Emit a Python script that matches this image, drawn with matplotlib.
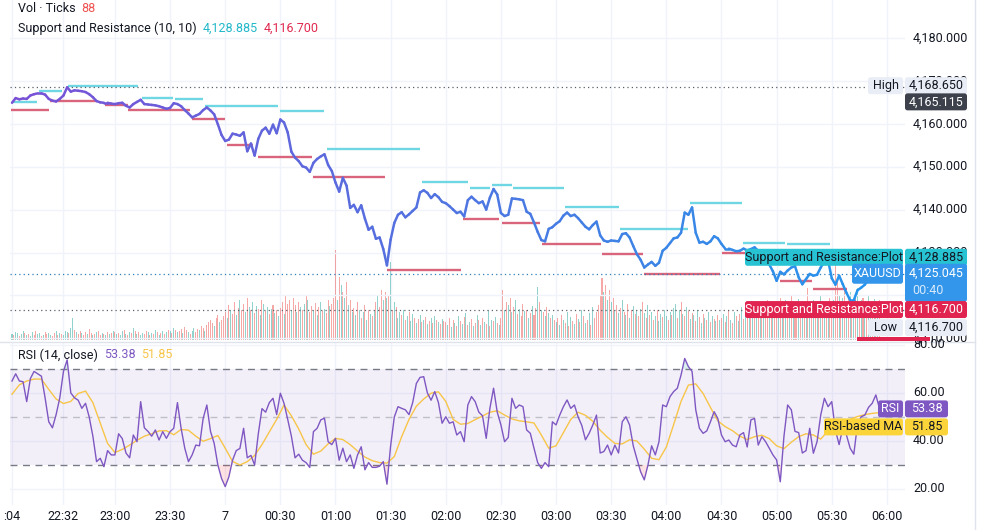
import numpy as np
import matplotlib
matplotlib.use("Agg")
import matplotlib.pyplot as plt
from matplotlib.collections import LineCollection
from matplotlib.patches import FancyBboxPatch, Rectangle

# ---------------- data (minutes after 22:00) ----------------
START = 4
# closes every 2 minutes
price = [
    4164.9, 4166.0, 4165.7, 4165.9, 4165.8, 4166.6, 4166.9, 4167.1, 4167.1, 4166.8, 4165.8, 4165.4, 4165.2,
    4165.8, 4166.6, 4168.5, 4167.5, 4167.8, 4167.7, 4167.6, 4167.4, 4166.9, 4166.2, 4165.3, 4165.0, 4164.9, 4164.9, 4164.7,
    4164.6, 4164.8, 4164.9, 4164.2, 4163.8, 4164.6, 4165.1, 4165.6, 4164.6, 4164.5, 4164.4, 4164.3, 4164.1, 4163.8, 4163.5,
    4163.7, 4164.8, 4164.6, 4164.1, 4163.2, 4162.4, 4161.5, 4161.9, 4162.3, 4163.2, 4163.8, 4163.1, 4162.2, 4159.9, 4157.4,
    4156.0, 4156.3, 4157.7, 4157.5, 4157.2, 4158.0, 4153.6, 4155.4, 4152.6, 4156.5, 4158.4, 4159.1, 4157.7, 4159.8, 4157.8,
    4161.0, 4160.3, 4158.0, 4153.5, 4152.1, 4151.3, 4150.1, 4149.8, 4148.8, 4150.9, 4151.8, 4152.4, 4152.9, 4150.4, 4149.0,
    4146.3, 4144.2, 4147.4, 4145.6, 4140.4, 4141.1, 4139.4, 4141.0, 4137.9, 4135.3, 4136.0, 4133.2, 4133.5, 4130.8, 4127.0,
    4133.0, 4136.9, 4138.8, 4139.4, 4138.2, 4138.9, 4139.7, 4140.5, 4144.0, 4144.5, 4143.9, 4142.7, 4143.6, 4142.9, 4141.8,
    4141.5, 4140.8, 4140.0, 4139.2, 4139.5, 4138.4, 4142.2, 4143.0, 4142.2, 4141.5, 4141.9, 4140.0, 4142.8, 4144.8, 4143.5,
    4139.2, 4138.5, 4138.8, 4142.6, 4142.5, 4142.4, 4142.2, 4139.5, 4139.0, 4137.0, 4134.8, 4132.9, 4132.6, 4135.5, 4135.9,
    4136.7, 4137.3, 4138.6, 4139.3, 4138.5, 4138.8, 4138.0, 4137.0, 4136.0, 4135.4, 4136.4, 4137.2, 4134.0, 4132.8, 4132.5,
    4132.8, 4132.7, 4132.6, 4134.3, 4134.5, 4133.5, 4131.5, 4129.6, 4128.3, 4126.5, 4127.2, 4127.8, 4126.9, 4127.6, 4130.4,
    4131.1, 4132.2, 4133.3, 4133.5, 4134.6, 4139.3, 4138.8, 4140.5, 4134.6, 4132.3, 4132.5, 4132.0, 4132.6, 4133.8, 4133.3,
    4132.0, 4130.9, 4130.9, 4130.6, 4130.3, 4130.4, 4130.9, 4130.5, 4130.8, 4131.2, 4130.4, 4129.3, 4128.4, 4127.2, 4125.6,
    4123.4, 4125.5, 4124.9, 4125.8, 4126.5, 4126.8, 4124.2, 4122.6, 4123.8, 4125.0, 4124.6, 4124.8, 4126.5, 4127.9, 4128.2,
    4124.0, 4122.5, 4124.6, 4122.6, 4120.6, 4118.9, 4118.9, 4121.2, 4121.8, 4122.5, 4123.8, 4124.6, 4125.6, 4125.045,
]
# RSI(14) every 2 minutes
rsi = [
    65, 68, 65, 64.7, 56.4, 66, 69, 68, 67, 58, 48, 45.5, 51,
    58, 69, 73.8, 60, 58, 57, 53.6, 55.7, 50, 42, 31.4, 32.8, 29.3, 36, 34.2,
    34.2, 43, 41, 35, 33, 42.5, 39.7, 56.4, 45.5, 44, 42, 44.6, 40.4, 43.9, 41.1,
    43.9, 45.3, 56, 45.3, 37, 31.4, 34.2, 38.3, 38, 49.4, 55, 44, 39, 30, 24.4,
    21, 25.1, 32, 36, 36.9, 45.3, 33, 34, 30, 43, 53.5, 52, 56, 57.8, 51,
    59.9, 55.7, 49, 42, 33, 34.5, 32, 31, 29, 43.9, 45.3, 48.8, 49.5, 39.7, 38.5,
    41.1, 32, 37, 31.4, 34.2, 28.6, 34.2, 37.6, 28, 31, 29, 29, 29.5, 31.4, 22,
    38, 50, 54.3, 53.6, 53, 51, 56, 64, 66.5, 66.8, 60, 57, 60.6, 56, 47.4,
    50.1, 47.4, 48, 42.5, 43.9, 39.7, 55, 58.5, 56.4, 52, 50.5, 41.1, 53.6, 62, 52,
    46.7, 39.7, 41.5, 57.8, 53.6, 55, 54.3, 44.6, 43.2, 37, 31, 28.6, 31, 29.3, 48,
    46.7, 50.8, 54.3, 57.1, 53.6, 55, 50, 46.5, 40.5, 43.2, 46.7, 50.8, 35, 35.6, 38.3,
    34.2, 38.3, 35, 48, 50.1, 46.7, 38, 32.5, 27.2, 23.8, 30, 38, 34.2, 39.7, 55,
    54.3, 58.5, 60.6, 62, 67.5, 74.4, 71, 69, 53, 45.3, 43.2, 44.2, 48, 52.2, 49.4,
    42.5, 39.7, 40.4, 38.3, 37.6, 42.5, 43.5, 37.5, 48.8, 49.4, 38.3, 41.8, 39.7, 37, 34.2,
    32.1, 23, 42, 55, 53, 44, 43.5, 35, 36, 45.3, 34.9, 39.7, 50.8, 57.8, 54.3,
    56.4, 44.5, 38.5, 45.3, 42.5, 37, 34.5, 47, 50.1, 50.8, 54, 55.7, 59.2, 53.38,
]
# RSI-based MA every 4 minutes
rsi_ma = [
    59.5, 63.4, 65.0, 65.8, 65.8, 61.5, 57.5, 55.6, 56.5, 59.8, 60.8, 56.0, 47.5, 39.0, 35.2,
    36.5, 38.3, 40.3, 42.0, 43.0, 44.2, 44.3, 42.6, 44.8, 44.5, 42.0, 39.9, 41.0, 42.3, 37.0,
    31.5, 30.0, 31.4, 34.0, 38.5, 43.8, 49.0, 55.0, 50.5, 45.0, 38.5, 34.5, 35.8, 38.8, 41.1,
    40.6, 38.5, 35.8, 33.3, 31.8, 31.0, 30.8, 33.5, 41.8, 49.0, 54.5, 57.5, 59.9, 60.5, 56.5,
    49.0, 47.0, 47.3, 48.9, 50.4, 52.0, 52.6, 50.8, 49.2, 48.4, 48.0, 47.5, 42.5, 37.0, 38.0,
    43.5, 49.0, 52.0, 50.7, 48.2, 44.5, 41.5, 39.0, 38.8, 40.5, 40.0, 36.6, 32.8, 32.2, 37.5,
    46.9, 56.5, 63.3, 63.8, 59.8, 54.0, 48.4, 46.0, 44.3, 42.0, 40.6, 41.8, 42.4, 41.0, 38.0,
    36.8, 39.5, 41.8, 43.0, 42.5, 40.8, 44.2, 46.0, 47.6, 49.0, 50.2, 51.0, 51.5, 51.85,
]
# tick volume per 1-minute bar (positive = up bar, negative = down bar)
volume = [
    6, -5, 8, 7, -4, 6, 9, -7, 5, -6, 4, 8, -5, -9, 6, 7, -4, 5, -8, -6, 7, 5, -4, -7, 9, -5,
    7, -6, 5, 9, 8, -7, 12, 22, -10, 8, -6, -9, 7, -5, -8, 6, -11, -7, 5, -6, 8, -9, -5, 7, -6, 5, -8, 6, -7, 9,
    -8, 6, -7, 5, 9, -10, 6, -5, 8, -7, 12, -9, 6, -8, 5, 7, -6, -9, 8, -5, 7, -6, 10, -8, 5, -7, 9, -6, 8, -10,
    9, -7, 12, -10, 8, -9, -11, 7, -13, -10, 8, -6, 9, 12, -8, -11, 10, -14, -12, 9, -15, -18, -20, -17, 14, -22, -25, 18, -20, -24,
    -28, 22, -35, 30, -26, -38, 25, -32, 40, -30, -36, 28, -42, 33, -30, 38, -27, 34, -31, 25, -40, 36, -29, 33, -26, 31, -35, 27, -30, 24,
    -32, -38, 26, -44, -36, -40, 30, -42, -35, 28, -38, 33, -30, 36, -45, 40, -28, -34, 30, -37, 25, -33, 38, -29, 31, -27, -40, 34, -36, -42,
    -90, 40, -63, 55, -48, 42, -58, 35, -40, 28, -32, 25, -38, 30, -22, 28, -35, 20, -30, 26, -24, 30, -38, 45, -33, -50, 40, -48, 42, -45,
    78, -30, 38, -33, 22, 28, -25, 30, -20, 24, -28, 19, 26, -22, 17, -21, 25, -18, 20, -23, 16, -19, 22, -17, 24, -20, 18, -16, 21, -19,
    -18, 15, -22, 13, -20, 17, -14, 24, -19, 16, -23, 27, -15, 18, -21, 14, -17, 25, -20, 15, -22, 18, -16, 30, -14, 20, -19, 23, -17, 15,
    -22, -50, 30, -38, 35, -42, 28, -33, 40, -26, 31, -24, -36, 29, -30, 22, -27, 34, -25, -32, 53, -38, 30, -28, 24, -33, 27, -22, 25, -20,
    18, -22, 15, -25, 20, -17, 28, -14, 23, -19, 16, -26, 21, -18, 30, -24, 17, -20, 27, -15, 33, -22, -28, -35, -45, -62, 48, -55, 40, -50,
    38, -42, 30, -35, 27, -32, 40, -28, 25, -36, 22, -30, 34, -26, 29, -24, 31, -38, 27, -22, 35, -25, 28, -20, 24, -30, 19, 26, -23, 30,
    24, -20, 28, -25, 32, 36, -22, 30, -38, 26, -24, 33, -29, 21, -27, 25, -19, 30, -23, 17, -26, 22, -20, 28, -18, 24, -21, 19, -25, 20,
    -22, 26, -18, 24, -30, 20, -17, 28, -24, 19, -26, 33, -21, 27, -35, 23, -29, 25, -32, 38, -27, 22, -34, 30, -28, -40, 33, -26, 36, -31,
    -38, 30, -42, 35, -28, 40, -33, 26, -45, 37, -30, -36, 41, -29, 34, -38, 27, -52, 32, -35, 40, -28, 36, -31, 44, -39, 30, -33, 38, -42,
    -36, 40, -85, -62, 45, -38, 42, -50, 35, -44, 48, -40, 38, -46, 52, -35, 40, -42, 36, -30, 45, 38, -33, 41, -36, 30, -40,
]
# Support and Resistance (10, 10) segments: start minute, end minute, level
res_start = [3.8, 18.7, 34.5, 74.7, 92.7, 109, 149.8, 175.4, 227, 253.2, 265.2, 276.6, 304.9, 334.8, 372.9, 401.7, 425.7, 450]
res_end = [17.8, 31.2, 72.6, 91.6, 107.9, 148.7, 173.7, 226, 252.1, 264.1, 276.1, 304.3, 334.3, 371.8, 401.2, 424.6, 449, 477]
res_level = [4165.1, 4167.6, 4168.9, 4165.9, 4165.7, 4164.2, 4163.0, 4154.1, 4146.5, 4145.0, 4145.7, 4145.1,
             4140.7, 4135.4, 4141.6, 4132.1, 4131.9, 4128.885]
sup_start = [3.3, 24.7, 54.6, 67.1, 101.9, 121, 137.8, 167.8, 208, 249.4, 270.6, 292.4, 325, 347.9, 390.3, 421.8, 439.8, 459]
sup_end = [24.1, 50.2, 67.1, 100.8, 119.9, 135.1, 167.2, 207, 248.3, 269, 291.3, 324.5, 347.3, 389.2, 402.8, 439.3, 458.3, 477]
sup_level = [4163.2, 4165.4, 4164.4, 4163.3, 4161.1, 4155.0, 4152.3, 4147.7, 4126.0, 4137.8, 4136.8, 4131.9,
             4129.6, 4124.9, 4129.8, 4123.3, 4121.4, 4116.7]

time_ticks = [4, 32, 60, 90, 120, 150, 180, 210, 240, 270, 300, 330, 360, 390, 420, 450, 480]
time_labels = [":04", "22:32", "23:00", "23:30", "7", "00:30", "01:00", "01:30", "02:00", "02:30",
               "03:00", "03:30", "04:00", "04:30", "05:00", "05:30", "06:00"]
price_ticks = [4110, 4120, 4130, 4140, 4150, 4160, 4170, 4180]
rsi_ticks = [20, 40, 60, 80]

high_price = 4168.650
ref_price = 4165.115
last_close = 4125.045
res_last = 4128.885
sup_last = 4116.700
low_price = 4116.700
rsi_last = 53.38
ma_last = 51.85
tick_vol = 88
countdown = "00:40"

# ---------------- figure ----------------
plt.rcParams['font.family'] = ['Roboto', 'DejaVu Sans']
FS = 9.0
TXT = '#131722'
GRID = '#f0f3fa'
W, H = 985, 530
fig = plt.figure(figsize=(W / 100, H / 100), dpi=100)
fig.patch.set_facecolor('white')


def fax(x0, y0, x1, y1):
    return fig.add_axes([x0 / W, 1 - y1 / H, (x1 - x0) / W, (y1 - y0) / H])


PL, PR = 10, 905
MAIN_TOP, MAIN_BOT = 0, 340
RSI_TOP, RSI_BOT = 342, 505
XMIN, XMAX = 2.91, 489.85

ax_vol = fax(PL, MAIN_TOP, PR, MAIN_BOT)
ax = fax(PL, MAIN_TOP, PR, MAIN_BOT)
ax_rsi = fax(PL, RSI_TOP, PR, RSI_BOT)
for a in (ax_vol, ax, ax_rsi):
    a.set_xlim(XMIN, XMAX)
    a.set_xticks([])
    a.set_yticks([])
    for s in a.spines.values():
        s.set_visible(False)
ax.patch.set_alpha(0)
ax.set_ylim(4109.604, 4188.858)
ax_vol.set_ylim(0, MAIN_BOT - MAIN_TOP)
ax_rsi.set_ylim(13.333, 81.25)

t_price = START + 2 * np.arange(len(price))
t_rsi = START + 2 * np.arange(len(rsi))
t_ma = START + 4 * np.arange(len(rsi_ma))
t_vol = START + np.arange(len(volume))

# grid
for tm in time_ticks:
    ax_vol.axvline(tm, color=GRID, lw=1, zorder=0)
    ax_rsi.axvline(tm, color=GRID, lw=1, zorder=0)
for p in price_ticks:
    ax.axhline(p, color=GRID, lw=1, zorder=0)
for r in rsi_ticks:
    ax_rsi.axhline(r, color=GRID, lw=1, zorder=0)

# volume
vol = np.array(volume)
vcol = np.where(vol >= 0, '#26a69a80', '#ef535080')
ax_vol.bar(t_vol, np.abs(vol), width=0.55, color=vcol, linewidth=0, zorder=1)

# support / resistance
ax.hlines(res_level, res_start, res_end, colors='#6fd6e3', lw=1.7, zorder=2)
ax.hlines(sup_level, sup_start, sup_end, colors='#d9657d', lw=1.7, zorder=2)

# dotted lines
ax.axhline(high_price, color='#5d606b', lw=0.9, ls=(0, (1, 2.5)), zorder=3)
ax.axhline(last_close, color='#2f7fb8', lw=0.9, ls=(0, (1, 2.5)), zorder=3)
ax.axhline(low_price, color='#5d606b', lw=0.9, ls=(0, (1, 2.5)), zorder=3)

# price line with purple -> blue gradient
pts = np.column_stack([t_price, price])
segs = np.stack([pts[:-1], pts[1:]], axis=1)
frac = np.linspace(0, 1, len(segs))[:, None]
c0 = np.array([0.478, 0.318, 0.839])
c1 = np.array([0.149, 0.588, 0.925])
lc = LineCollection(segs, colors=c0 * (1 - frac) + c1 * frac, linewidths=1.8,
                    capstyle='round', joinstyle='round', zorder=4)
ax.add_collection(lc)

# RSI pane
ax_rsi.axhspan(30, 70, color='#7e57c2', alpha=0.09, lw=0, zorder=0.5)
ax_rsi.axhline(70, color='#787b86', lw=1, ls=(0, (5, 4)), zorder=1)
ax_rsi.axhline(30, color='#787b86', lw=1, ls=(0, (5, 4)), zorder=1)
ax_rsi.axhline(50, color='#9598a1', lw=1, ls=(0, (5, 4)), alpha=0.55, zorder=1)
r_arr = np.array(rsi)
ax_rsi.fill_between(t_rsi, r_arr, 30, where=r_arr < 30, interpolate=True, color='#f23645', alpha=0.15, lw=0)
ax_rsi.fill_between(t_rsi, r_arr, 70, where=r_arr > 70, interpolate=True, color='#089981', alpha=0.15, lw=0)
ax_rsi.plot(t_ma, rsi_ma, color='#f7c548', lw=1.0, zorder=2)
ax_rsi.plot(t_rsi, rsi, color='#7e57c2', lw=1.0, zorder=3)

# ---------------- overlay (pixel coordinates, y up) ----------------
ov = fig.add_axes([0, 0, 1, 1])
ov.set_xlim(0, W)
ov.set_ylim(0, H)
ov.axis('off')
ov.set_zorder(10)


def ypix(a, v):
    return a.transData.transform((XMIN, v))[1]


def xpix(m):
    return ax.transData.transform((m, 4150))[0]


ov.plot([0, 975], [H - 341.5, H - 341.5], color='#e0e3eb', lw=1)
ov.plot([974.5, 974.5], [0, H], color='#e0e3eb', lw=1)

for p in price_ticks:
    ov.text(913, ypix(ax, p), f"{p:,.3f}", ha='left', va='center', fontsize=FS, color=TXT)
for r in rsi_ticks:
    ov.text(913, ypix(ax_rsi, r), f"{r:.2f}", ha='left', va='center', fontsize=FS, color=TXT)
for tm, lab in zip(time_ticks, time_labels):
    ov.text(xpix(tm), H - 517, lab, ha='center', va='center', fontsize=FS, color=TXT)


def box(x0, x1, yc, h, fc, text=None, tc='white', ty=None):
    ov.add_patch(FancyBboxPatch((x0, yc - h / 2), x1 - x0, h,
                                boxstyle='round,pad=0,rounding_size=2.5', fc=fc, ec='none', zorder=5))
    if text is not None:
        ov.text((x0 + x1) / 2, yc if ty is None else ty, text, ha='center', va='center',
                fontsize=FS, color=tc, zorder=6)


LIGHT = '#e9edf5'
TEAL = '#27c3d3'
RED = '#e0244f'
BLUE = '#3396ea'
VX0, VX1 = 905, 967

y_high = ypix(ax, high_price)
box(868, 903, y_high + 1, 17, LIGHT, 'High', TXT)
box(VX0, VX1, y_high + 1, 17, LIGHT, f"{high_price:,.3f}", TXT)
box(VX0, VX1, ypix(ax, ref_price), 17, '#3d414b', f"{ref_price:,.3f}", 'white')

y_res = ypix(ax, res_last)
box(745, 903, y_res, 17, TEAL, 'Support and Resistance:Plot', TXT)
box(VX0, VX1, y_res, 17, TEAL, f"{res_last:,.3f}", TXT)

y_last = ypix(ax, last_close)
box(852, 903, y_last, 20, BLUE, 'XAUUSD', 'white')
ov.add_patch(FancyBboxPatch((VX0, y_last - 28), VX1 - VX0, 38,
                            boxstyle='round,pad=0,rounding_size=2.5', fc=BLUE, ec='none', zorder=5))
ov.text((VX0 + VX1) / 2, y_last, f"{last_close:,.3f}", ha='center', va='center', fontsize=FS, color='white', zorder=6)
ov.text((VX0 + VX1) / 2 - 8, y_last - 17, countdown, ha='center', va='center', fontsize=FS, color='#d6e9fb', zorder=6)

y_sup = ypix(ax, sup_last)
box(745, 903, y_sup, 17, RED, 'Support and Resistance:Plot', 'white')
box(VX0, VX1, y_sup, 17, RED, f"{sup_last:,.3f}", 'white')

y_low = y_sup - 18
box(868, 903, y_low, 17, LIGHT, 'Low', TXT)
box(VX0, VX1, y_low, 17, LIGHT, f"{low_price:,.3f}", TXT)
ov.add_patch(Rectangle((857, H - 341), 73, 4, fc=RED, ec='none', zorder=5))

y_rsi = ypix(ax_rsi, rsi_last)
box(878, 903, y_rsi, 17, '#7e57c2', 'RSI', 'white')
box(VX0, 948, y_rsi, 17, '#7e57c2', f"{rsi_last:.2f}", 'white')
y_ma = y_rsi - 18
box(824, 903, y_ma, 17, '#fbd43a', 'RSI-based MA', TXT)
box(VX0, 948, y_ma, 17, '#fbd43a', f"{ma_last:.2f}", TXT)

# legends
fig.canvas.draw()
rend = fig.canvas.get_renderer()


def seq(x, y, parts, gap=6):
    for s, c in parts:
        t = ov.text(x, y, s, ha='left', va='center', fontsize=FS, color=c, zorder=6)
        bb = t.get_window_extent(renderer=rend)
        x = bb.x1 + gap


seq(18, H - 9, [('Vol · Ticks', TXT), (f"{tick_vol}", '#ef5350')])
seq(18, H - 28, [('Support and Resistance (10, 10)', TXT), (f"{res_last:,.3f}", '#22b8c9'),
                 (f"{sup_last:,.3f}", '#e0284f')])
seq(18, H - 355, [('RSI (14, close)', TXT), (f"{rsi_last:.2f}", '#7e57c2'), (f"{ma_last:.2f}", '#f7c548')])

fig.savefig('out.png', dpi=100, facecolor='white')
